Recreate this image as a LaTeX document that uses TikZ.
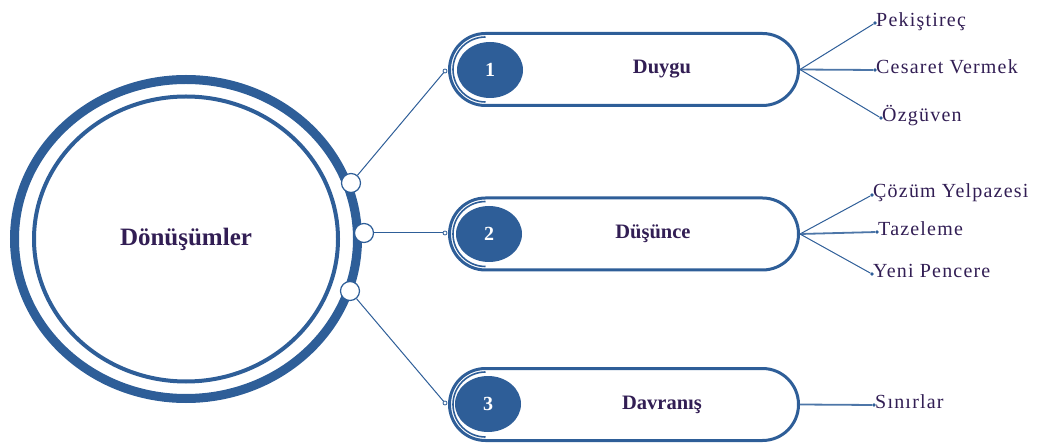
\documentclass[tikz,border=0pt]{standalone}
\usepackage{fontspec}
\setmainfont{Liberation Serif}
\newfontfamily\branchfont[LetterSpace=6]{Liberation Serif}
\usepackage{tikz}
\usetikzlibrary{shapes,arrows}
\usepackage{color}
\definecolor{ringblue}{RGB}{46,94,152}
\definecolor{textpurple}{RGB}{50,30,84}

\begin{document}
\begin{tikzpicture}[x=1pt, y=-1pt,
    knob/.style={circle, draw=ringblue, line width=1.2pt, fill=white, minimum size=19pt, inner sep=0pt},
    endpt/.style={circle, draw=ringblue, line width=0.8pt, fill=white, minimum size=4pt, inner sep=0pt},
    pill/.style={rectangle, rounded corners=36pt, draw=ringblue, line width=3pt, minimum width=349pt, minimum height=72pt},
    disk/.style={ellipse, fill=ringblue, minimum width=66pt, minimum height=56pt, inner sep=0pt, text=white, font=\fontsize{20}{22}\selectfont\bfseries},
    leafdot/.style={circle, fill=ringblue, minimum size=3.6pt, inner sep=0pt},
    branchline/.style={draw=ringblue, line width=1pt},
    headtext/.style={text=textpurple, font=\fontsize{20.5}{24}\selectfont\bfseries},
    branchlabel/.style={text=textpurple, font=\branchfont\fontsize{20}{24}\selectfont, inner sep=1pt, anchor=base west}
  ]
  \useasboundingbox (0,0) rectangle (1041,443);

  % rings
  \node[ellipse, draw=ringblue, line width=9pt, minimum width=343pt, minimum height=319pt,
        text=textpurple, font=\fontsize{25}{30}\selectfont\bfseries] (m) at (186,239) {Dönüşümler};
  \draw[ringblue, line width=4pt] (m.center) ellipse [x radius=152, y radius=142.5];

  % knobs on the ring
  \node[knob] (s1) at (351,183) {};
  \node[knob] (s2) at (364,233) {};
  \node[knob] (s3) at (350,291) {};

  % pills
  \node[pill] (p1) at (624,69.5) {};
  \node[pill] (p2) at (624,234) {};
  \node[pill] (p3) at (624,404.5) {};
  \draw[ringblue, line width=1.6pt] ([shift={(37.5,32.5)}]p1.west) arc[start angle=90, end angle=270, radius=32.5];
  \draw[ringblue, line width=1.6pt] ([shift={(37.5,32.5)}]p2.west) arc[start angle=90, end angle=270, radius=32.5];
  \draw[ringblue, line width=1.6pt] ([shift={(37.5,32.5)}]p3.west) arc[start angle=90, end angle=270, radius=32.5];

  % numbers
  \node[disk] (n1) at (490,70) {1};
  \node[disk] (n2) at (489,234) {2};
  \node[disk] (n3) at (488,404) {3};

  % pill ends
  \node[endpt] (e1) at (445,71) {};
  \node[endpt] (e2) at (445,233) {};
  \node[endpt] (e3) at (445,403) {};

  % connectors
  \draw[branchline] (s1) -- (e1);
  \draw[branchline] (s2) -- (e2);
  \draw[branchline] (s3) -- (e3);

  % pill labels
  \node[headtext] (t1) at (662,69.5) {Duygu};
  \node[headtext] (t2) at (653,234) {Düşünce};
  \node[headtext] (t3) at (662,404.5) {Davranış};

  % leaves
  \node[leafdot] (d11) at (875,23) {};
  \node[leafdot] (d12) at (875,70) {};
  \node[leafdot] (d13) at (881,118) {};
  \node[leafdot] (d21) at (872,195) {};
  \node[leafdot] (d22) at (877,232) {};
  \node[leafdot] (d23) at (872,274) {};
  \node[leafdot] (d31) at (874,405) {};

  \draw[branchline] (p1.east) -- (d11);
  \draw[branchline, line width=1.8pt, ringblue!85] (p1.east) -- (d12);
  \draw[branchline] (p1.east) -- (d13);
  \draw[branchline] (p2.east) -- (d21);
  \draw[branchline, line width=1.8pt, ringblue!85] (p2.east) -- (d22);
  \draw[branchline] (p2.east) -- (d23);
  \draw[branchline, line width=1.8pt, ringblue!85] (p3.east) -- (d31);

  % leaf labels
  \node[branchlabel] (l11) at ([yshift=-4pt]d11.center) {Pekiştireç};
  \node[branchlabel] (l12) at ([yshift=-4pt]d12.center) {Cesaret Vermek};
  \node[branchlabel] (l13) at ([yshift=-4pt]d13.center) {Özgüven};
  \node[branchlabel] (l21) at ([yshift=-3pt]d21.center) {Çözüm Yelpazesi};
  \node[branchlabel] (l22) at ([yshift=-4pt]d22.center) {Tazeleme};
  \node[branchlabel] (l23) at ([yshift=-4pt]d23.center) {Yeni Pencere};
  \node[branchlabel] (l31) at ([yshift=-3pt]d31.center) {Sınırlar};
\end{tikzpicture}
\end{document}
